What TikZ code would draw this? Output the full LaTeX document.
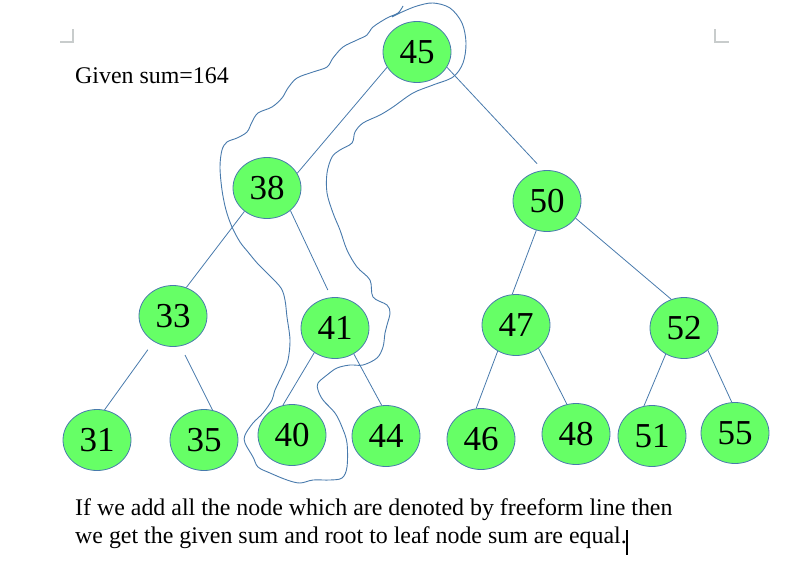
\documentclass[tikz,border=0pt]{standalone}
\usepackage{fontspec}
\setmainfont{Liberation Serif}
\usepackage{tikz}
\usetikzlibrary{shapes.geometric,positioning,calc}
\definecolor{nodegreen}{RGB}{102,255,102}
\definecolor{penblue}{RGB}{72,122,172}
\definecolor{markgray}{RGB}{200,204,204}
\tikzstyle{key}=[ellipse, draw=penblue, fill=nodegreen, line width=0.8pt, inner sep=0pt, minimum width=68pt, minimum height=61pt, node font={\fontsize{35}{35}\selectfont}]
\tikzstyle{br}=[draw=penblue, line width=0.8pt]
\tikzstyle{freeform}=[draw=penblue, line width=0.9pt, smooth, tension=0.55]
\tikzstyle{crop}=[draw=markgray, line width=1.2pt]
\tikzstyle{txt}=[inner sep=0pt, anchor=base west, node font={\fontsize{23.9}{28}\selectfont}]

\begin{document}
\begin{tikzpicture}[x=1pt, y=-1pt]
        \useasboundingbox (0,0) rectangle (790,565);
        % page corner marks
        \draw[crop] (60,42) -- (73,42) -- (73,29);
        \draw[crop] (715,29) -- (715,42) -- (729,42);
        \node (given) [txt] at (75,83) {Given sum=164};
        \node (n45) [key] at (417,52) {45};
        \node (n38) [key] at (267,188) {38};
        \node (n50) [key] at (547,201) {50};
        \node (n33) [key] at (173,316) {33};
        \node (n41) [key] at (335,328) {41};
        \node (n47) [key] at (516,325) {47};
        \node (n52) [key] at (684,328) {52};
        \node (n31) [key] at (97,440) {31};
        \node (n35) [key] at (204,440) {35};
        \node (n40) [key] at (292,435) {40};
        \node (n44) [key] at (386,436) {44};
        \node (n46) [key] at (481,439) {46};
        \node (n48) [key] at (576,434) {48};
        \node (n51) [key] at (652,436) {51};
        \node (n55) [key] at (735,433) {55};
        \draw (n45.207) edge[br] (n38.26);
        \draw (n45.333) edge[br, shorten >=9pt] (n50.97);
        \draw (n38.226) edge[br] (n33.65);
        \draw (n38.316) edge[br, shorten >=8pt] (n41.97);
        \draw (n50.250) edge[br] (n47.97);
        \draw (n50.329) edge[br] (n52.114);
        \draw (n33.233) edge[br, shorten <=10pt] (n31.76);
        \draw (n33.284) edge[br, shorten <=10pt] (n35.74);
        \draw (n41.230) edge[br] (n40.107);
        \draw (n41.306) edge[br] (n44.98);
        \draw (n47.235) edge[br] (n46.99);
        \draw (n47.314) edge[br] (n48.107);
        \draw (n52.235) edge[br] (n51.105);
        \draw (n52.317) edge[br] (n55.96);
        % freeform line round the path 45-38-41-40
        \draw[freeform] plot coordinates {(403,6) (398,13) (387,18) (373,27) (367,35) (357,40) (343,47) (333,58) (327,67) (313,72) (297,78) (288,88) (282,98) (272,107) (258,113) (252,122) (247,132) (237,138) (227,142) (222,150) (220,167) (222,190) (226,210) (232,227) (240,242) (248,252) (258,264) (270,276) (281,288) (285,300) (287,317) (290,340) (288,360) (283,373) (275,390) (272,400) (263,413) (253,423) (245,435) (245,443) (253,457) (258,467) (270,473) (287,480) (300,483) (313,480) (330,480) (342,478) (347,467) (347,443) (342,427) (335,413) (323,400) (318,390) (318,383) (327,375) (337,368) (350,365) (363,365) (377,358) (383,347) (385,333) (387,325) (390,313) (387,305) (373,297) (370,280) (357,267) (347,250) (340,230) (333,213) (327,193) (327,173) (332,157) (340,150) (352,143) (355,132) (363,123) (380,115) (393,107) (413,93) (433,85) (453,77) (463,63) (466,43) (462,23) (450,8) (433,3) (417,6) (402,12) (392,17)};
        \node (note1) [txt] at (75,515) {If we add all the node which are denoted by freeform line then};
        \node (note2) [txt] at (75,543) {we get the given sum and root to leaf node sum are equal.};
        \draw[line width=1.4pt] (627,530) -- (627,555);
\end{tikzpicture}
\end{document}
